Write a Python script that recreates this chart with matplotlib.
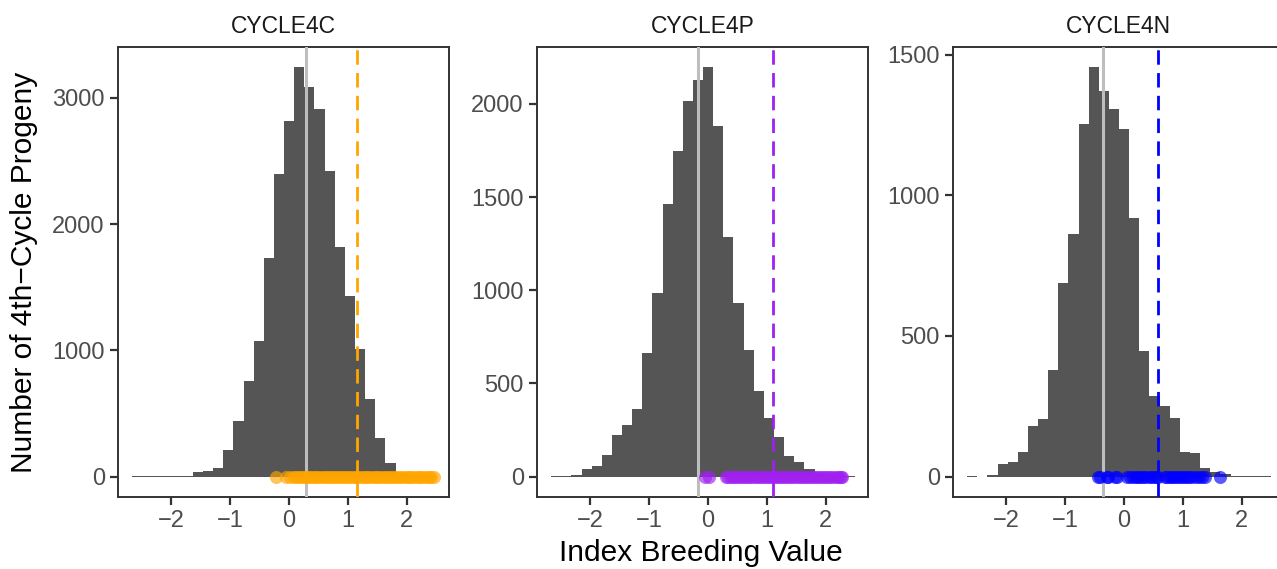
import numpy as np
import matplotlib
matplotlib.use("Agg")
import matplotlib.pyplot as plt

plt.rcParams['font.family'] = ['Liberation Sans', 'DejaVu Sans']

# histogram bins shared by the three facets
bin_edges = [-2.66, -2.488, -2.316, -2.144, -1.972, -1.80, -1.628, -1.456, -1.284,
             -1.112, -0.94, -0.768, -0.596, -0.424, -0.252, -0.08, 0.092, 0.264,
             0.436, 0.608, 0.78, 0.952, 1.124, 1.296, 1.468, 1.64, 1.812, 1.984,
             2.156, 2.328, 2.5]

panels = ["CYCLE4C", "CYCLE4P", "CYCLE4N"]

counts_4c = [1, 1, 2, 2, 8, 8, 38, 40, 64, 210, 437, 760, 1077, 1731, 2397, 2819,
             3240, 3083, 2911, 2423, 1816, 1433, 1011, 615, 306, 108, 30, 8, 2, 1]
counts_4p = [2, 2, 9, 41, 58, 117, 224, 278, 360, 664, 987, 1462, 1749, 2018, 2126,
             2196, 1880, 1288, 933, 678, 458, 314, 210, 110, 78, 42, 12, 4, 2, 1]
counts_4n = [1, 0, 6, 45, 53, 89, 178, 205, 380, 690, 862, 1254, 1455, 1373, 1308,
             1236, 921, 446, 285, 250, 208, 89, 83, 32, 16, 10, 1, 1, 1, 1]

# selected parents (points on the baseline)
sel_4c = [-0.21, -0.05, 0.02, 0.08, 0.12, 0.17, 0.21, 0.26, 0.3, 0.34, 0.38, 0.43,
          0.47, 0.5, 0.55, 0.59, 0.63, 0.68, 0.72, 0.76, 0.8, 0.85, 0.89, 0.93, 0.97,
          1.02, 1.06, 1.1, 1.14, 1.18, 1.23, 1.27, 1.31, 1.35, 1.4, 1.44, 1.48, 1.52,
          1.57, 1.61, 1.65, 1.7, 1.74, 1.78, 1.82, 1.87, 1.91, 1.95, 2.0, 2.04, 2.08,
          2.12, 2.17, 2.21, 2.25, 2.3, 2.34, 2.38, 2.42, 2.46]
sel_4p = [-0.04, 0.02, 0.31, 0.35, 0.39, 0.43, 0.47, 0.51, 0.55, 0.6, 0.64, 0.68,
          0.72, 0.77, 0.81, 0.85, 0.9, 0.94, 0.98, 1.02, 1.07, 1.11, 1.15, 1.2, 1.24,
          1.28, 1.33, 1.37, 1.41, 1.45, 1.5, 1.54, 1.58, 1.63, 1.67, 1.71, 1.76, 1.8,
          1.84, 1.88, 1.93, 1.97, 2.01, 2.06, 2.1, 2.14, 2.19, 2.23, 2.27, 2.28]
sel_4n = [-0.44, -0.4, -0.29, -0.26, -0.15, -0.12, 0.05, 0.1, 0.15, 0.2, 0.24, 0.28,
          0.33, 0.36, 0.42, 0.47, 0.52, 0.55, 0.58, 0.7, 0.74, 0.78, 0.82, 0.86, 0.9,
          0.94, 0.98, 1.03, 1.07, 1.11, 1.16, 1.22, 1.27, 1.33, 1.38, 1.64]

mean_line = [0.29, -0.17, -0.35]     # solid grey line
cut_line = [1.16, 1.10, 0.576]       # dashed selection threshold
colors = ["#FFA500", "#A020F0", "#0000FF"]
yticks = [[0, 1000, 2000, 3000], [0, 500, 1000, 1500, 2000], [0, 500, 1000, 1500]]

all_counts = [counts_4c, counts_4p, counts_4n]
all_sel = [sel_4c, sel_4p, sel_4n]

W, H = 1277, 569
fig = plt.figure(figsize=(W / 100, H / 100), dpi=100)

lefts = [118, 537, 953]
width_px = 331
top_px, bot_px = 47, 497

edges = np.array(bin_edges)
for i, name in enumerate(panels):
    ax = fig.add_axes([lefts[i] / W, 1 - bot_px / H, width_px / W, (bot_px - top_px) / H])
    counts = all_counts[i]
    ax.bar(edges[:-1], counts, width=np.diff(edges), align='edge',
           color="#555555", linewidth=0)
    ax.axvline(mean_line[i], color="#BEBEBE", linewidth=2.2, zorder=3)
    ax.scatter(all_sel[i], np.zeros(len(all_sel[i])), s=88, color=colors[i],
               alpha=0.65, linewidths=0, zorder=4)
    ax.axvline(cut_line[i], color=colors[i], linewidth=2.0, linestyle=(0, (5.2, 3)),
               zorder=5)

    ymax = max(counts)
    ax.set_ylim(-0.05 * ymax, 1.05 * ymax)
    ax.set_xlim(-2.9, 2.72)
    ax.set_xticks([-2, -1, 0, 1, 2])
    ax.set_yticks(yticks[i])
    ax.tick_params(axis='both', length=5.5, width=1.6, color="#333333",
                   labelsize=17, labelcolor="#4D4D4D", pad=4)
    for sp in ax.spines.values():
        sp.set_color("#333333")
        sp.set_linewidth(1.4)
    ax.set_title(name, fontsize=16.5, color="#1A1A1A", pad=10)

fig.text(24 / W, 1 - 272 / H, "Number of 4th\u2212Cycle Progeny", rotation=90,
         ha='center', va='center', fontsize=21.5)
fig.text(701 / W, 1 - 553 / H, "Index Breeding Value", ha='center', va='center',
         fontsize=21.5)

fig.savefig("out.png", dpi=100)
